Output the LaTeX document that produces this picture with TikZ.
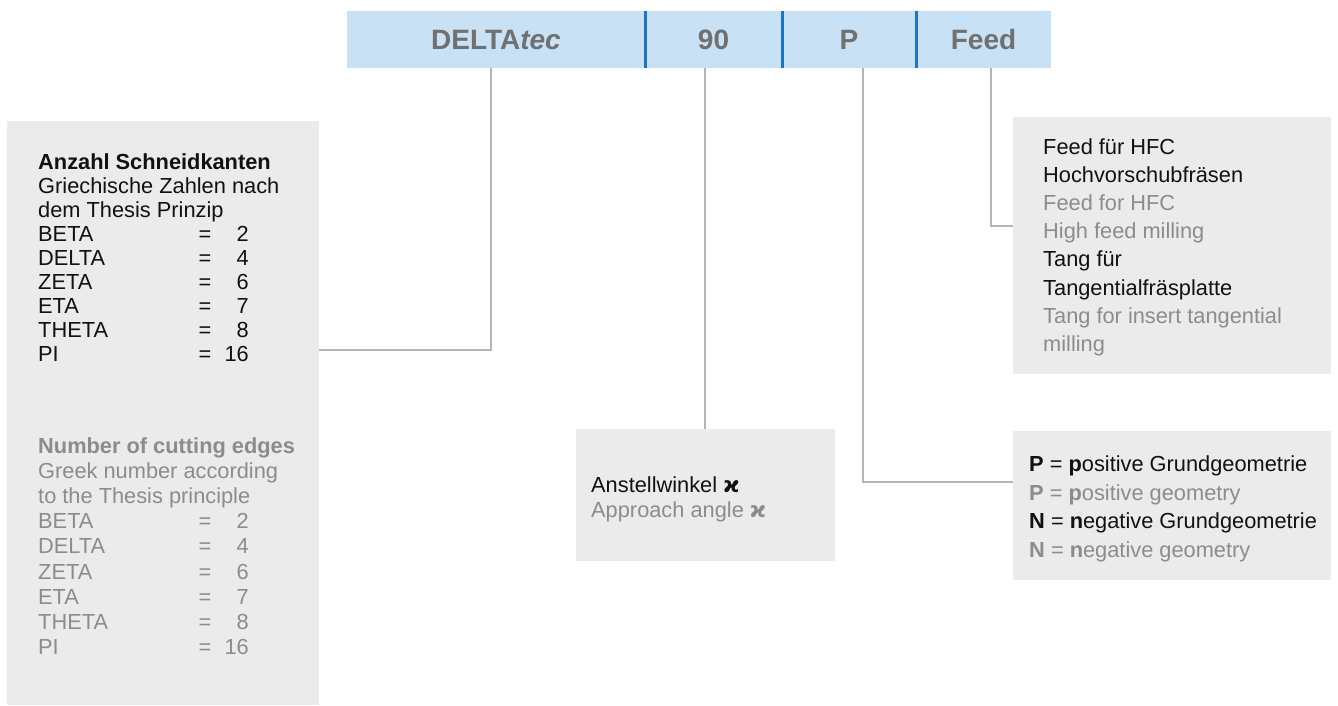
\documentclass[tikz,border=0pt]{standalone}
\usepackage{fontspec}
\setmainfont{Liberation Sans}
\newfontfamily\kapfont{DejaVu Sans}
\definecolor{barfill}{HTML}{C9E1F5}
\definecolor{divblue}{HTML}{1B75C2}
\definecolor{hdrtext}{HTML}{707070}
\definecolor{boxfill}{HTML}{EBEBEB}
\definecolor{connc}{HTML}{B5B5B5}
\definecolor{txtblack}{HTML}{111111}
\definecolor{txtgrey}{HTML}{8C8C8C}
\begin{document}
\begin{tikzpicture}[x=1pt,y=-1pt,
  box/.style={fill=boxfill, draw=none, anchor=north west, inner sep=0pt, outer sep=0pt},
  cell/.style={fill=barfill, draw=none, anchor=north west, inner sep=0pt, outer sep=0pt, minimum height=57pt,
    font=\fontsize{28}{30}\selectfont\bfseries, text=hdrtext},
  divider/.style={draw=divblue, line width=3pt},
  txt/.style={anchor=base west, inner sep=0pt, font=\fontsize{21.8}{24}\selectfont, text=txtblack},
  gtxt/.style={txt, text=txtgrey},
  connector/.style={draw=connc, line width=2pt}]
\useasboundingbox (0,0) rectangle (1338,705);

% boxes
\node[box, minimum width=312pt, minimum height=584pt] (lbox) at (7,121) {};
\node[box, minimum width=259pt, minimum height=132pt] (mbox) at (576,429) {};
\node[box, minimum width=318pt, minimum height=257pt] (rtbox) at (1013,117) {};
\node[box, minimum width=318pt, minimum height=149pt] (rbbox) at (1013,431) {};

% header
\node[cell, minimum width=298pt] (h1) at (347,11) {DELTA\textit{tec}};
\node[cell, minimum width=137pt] (h2) at (645,11) {90};
\node[cell, minimum width=134pt] (h3) at (782,11) {P};
\node[cell, minimum width=135pt] (h4) at (916,11) {Feed};
\draw[divider] (h2.north west) -- (h2.south west);
\draw[divider] (h3.north west) -- (h3.south west);
\draw[divider] (h4.north west) -- (h4.south west);

% connectors
\coordinate (k1) at (491,0);
\coordinate (k2) at (705,0);
\coordinate (k3) at (863,0);
\coordinate (k4) at (991,0);
\coordinate (j1) at (0,350);
\coordinate (j3) at (0,482);
\coordinate (j4) at (0,226);
\draw[connector] (h1.south -| k1) |- (lbox.east |- j1);
\draw[connector] (h2.south -| k2) -- (mbox.north -| k2);
\draw[connector] (h3.south -| k3) |- (rbbox.west |- j3);
\draw[connector] (h4.south -| k4) |- (rtbox.west |- j4);

% left box, German
\node[txt, font=\fontsize{21.8}{24}\selectfont\bfseries] (l0) at (38,169.5) {Anzahl Schneidkanten};
\node[txt] (l1) at (38,193.5) {Griechische Zahlen nach};
\node[txt] (l2) at (38,217.5) {dem Thesis Prinzip};
\foreach \n/\v [count=\i] in {BETA/2, DELTA/4, ZETA/6, ETA/7, THETA/8, PI/16} {
  \node[txt] (la\i) at (38,{169.5+24*(\i+2)}) {\n};
  \node[txt, anchor=base] (le\i) at (205,{169.5+24*(\i+2)}) {=};
  \node[txt, anchor=base east] (lv\i) at (249,{169.5+24*(\i+2)}) {\v};
}
% left box, English
\node[gtxt, font=\fontsize{21.8}{24}\selectfont\bfseries] (e0) at (38,453.5) {Number of cutting edges};
\node[gtxt] (e1) at (38,478.6) {Greek number according};
\node[gtxt] (e2) at (38,503.7) {to the Thesis principle};
\foreach \n/\v [count=\i] in {BETA/2, DELTA/4, ZETA/6, ETA/7, THETA/8, PI/16} {
  \node[gtxt] (ea\i) at (38,{453.5+25.1*(\i+2)}) {\n};
  \node[gtxt, anchor=base] (ee\i) at (205,{453.5+25.1*(\i+2)}) {=};
  \node[gtxt, anchor=base east] (ev\i) at (249,{453.5+25.1*(\i+2)}) {\v};
}

% middle box
\node[txt] (m1) at (591,492.5) {Anstellwinkel {\kapfont\bfseries ϰ}};
\node[gtxt] (m2) at (591,517) {Approach angle {\kapfont\bfseries ϰ}};

% right top box
\node[txt] (r1) at (1043,154) {Feed für HFC};
\node[txt] (r2) at (1043,182.2) {Hochvorschubfräsen};
\node[gtxt] (r3) at (1043,210.4) {Feed for HFC};
\node[gtxt] (r4) at (1043,238.6) {High feed milling};
\node[txt] (r5) at (1043,266.8) {Tang für};
\node[txt] (r6) at (1043,295) {Tangentialfräsplatte};
\node[gtxt] (r7) at (1043,323.2) {Tang for insert tangential};
\node[gtxt] (r8) at (1043,351.4) {milling};

% right bottom box
\node[txt] (b1) at (1029,471.5) {\textbf{P} = \textbf{p}ositive Grundgeometrie};
\node[gtxt] (b2) at (1029,500) {\textbf{P} = \textbf{p}ositive geometry};
\node[txt] (b3) at (1029,528.5) {\textbf{N} = \textbf{n}egative Grundgeometrie};
\node[gtxt] (b4) at (1029,557) {\textbf{N} = \textbf{n}egative geometry};
\end{tikzpicture}
\end{document}
